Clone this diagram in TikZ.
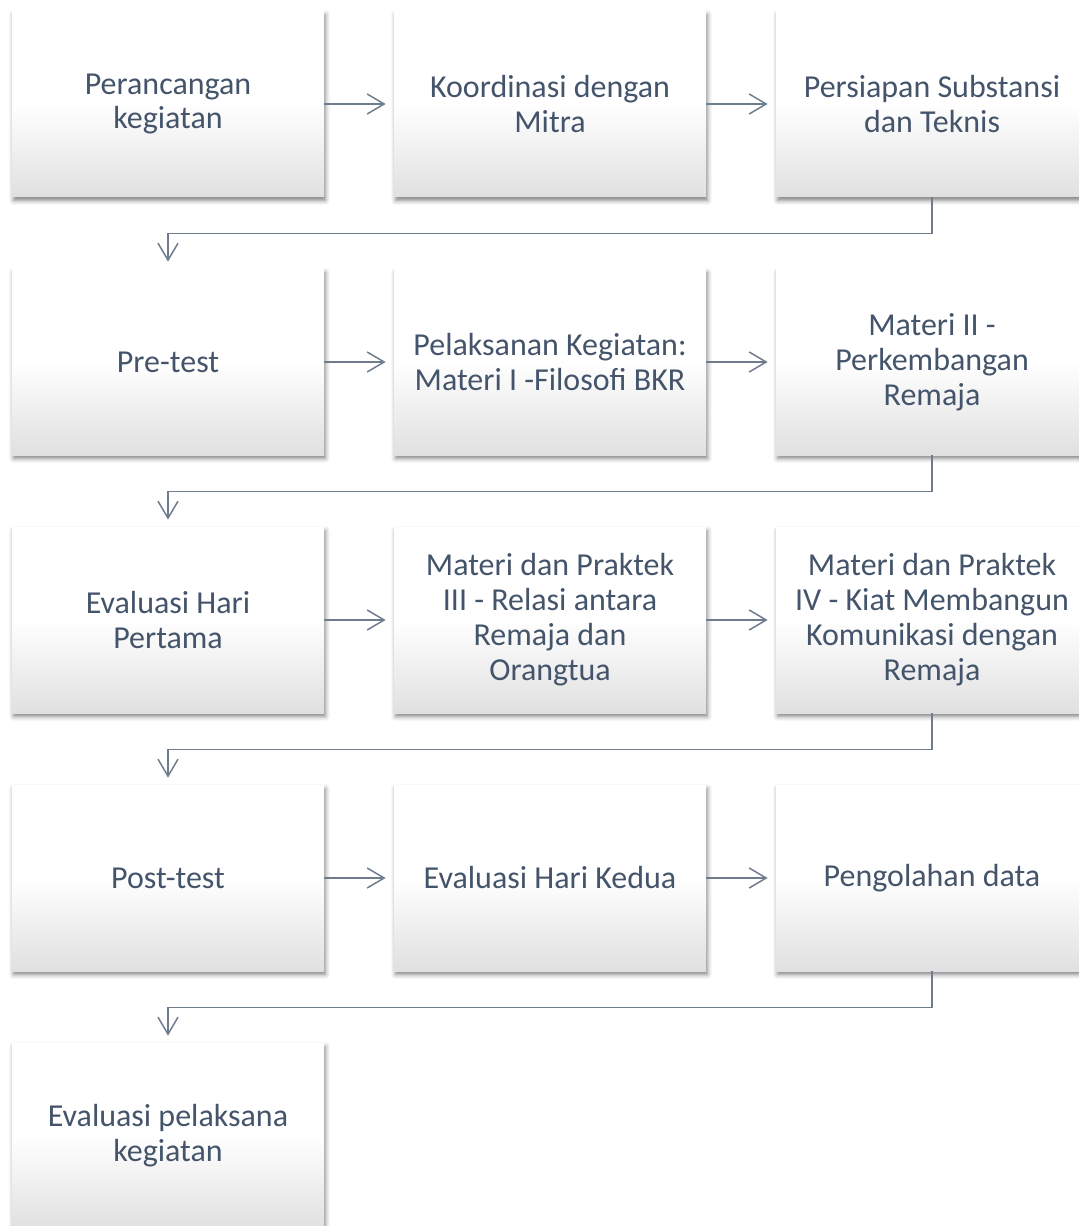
\documentclass[tikz,border=0pt]{standalone}
\usepackage{fontspec}
\setmainfont{Carlito}
\usepackage{tikz}
\usetikzlibrary{arrows.meta, positioning, calc, shadows.blur}
\definecolor{textslate}{HTML}{44546A}
\definecolor{lineslate}{HTML}{6F7C8E}
\definecolor{boxgray}{HTML}{E0E0E0}

\begin{document}
\begin{tikzpicture}[
    stage/.style={minimum width=6.24cm, minimum height=3.72cm, inner sep=0pt,
      top color=white, bottom color=boxgray, middle color=white,
      blur shadow={shadow xshift=0.03cm, shadow yshift=-0.07cm, shadow blur radius=0.09cm, shadow opacity=50},
      font=\fontsize{18.2pt}{19.9pt}\selectfont, text=textslate, align=center},
    flow/.style={-{Straight Barb[length=0.34cm, width=0.4cm]}, draw=lineslate, line width=0.85pt},
]
    \useasboundingbox (0,0) rectangle (21.56,-24.52);

    % Row 1
    \node[stage] (plan) at (3.36, -2.08) {Perancangan\\kegiatan};
    \node[stage] (koord) at (11.0, -2.08) {Koordinasi dengan\\Mitra};
    \node[stage] (siap) at (18.64, -2.08) {Persiapan Substansi\\dan Teknis};

    % Row 2
    \node[stage] (pretest) at (3.36, -7.24) {Pre-test};
    \node[stage] (materi1) at (11.0, -7.24) {Pelaksanan Kegiatan:\\Materi I -Filosofi BKR};
    \node[stage] (materi2) at (18.64, -7.24) {Materi II -\\Perkembangan\\Remaja};

    % Row 3
    \node[stage] (evalsatu) at (3.36, -12.40) {Evaluasi Hari\\Pertama};
    \node[stage] (materi3) at (11.0, -12.40) {Materi dan Praktek\\III - Relasi antara\\Remaja dan\\Orangtua};
    \node[stage] (materi4) at (18.64, -12.40) {Materi dan Praktek\\IV - Kiat Membangun\\Komunikasi dengan\\Remaja};

    % Row 4
    \node[stage] (posttest) at (3.36, -17.56) {Post-test};
    \node[stage] (evaldua) at (11.0, -17.56) {Evaluasi Hari Kedua};
    \node[stage] (olah) at (18.64, -17.56) {Pengolahan data};

    % Row 5
    \node[stage] (evalakhir) at (3.36, -22.72) {Evaluasi pelaksana\\kegiatan};

    % Arrows within rows
    \draw[flow] (plan) -- ([xshift=-0.16cm]koord.west);
    \draw[flow] (koord) -- ([xshift=-0.16cm]siap.west);
    \draw[flow] (pretest) -- ([xshift=-0.16cm]materi1.west);
    \draw[flow] (materi1) -- ([xshift=-0.16cm]materi2.west);
    \draw[flow] (evalsatu) -- ([xshift=-0.16cm]materi3.west);
    \draw[flow] (materi3) -- ([xshift=-0.16cm]materi4.west);
    \draw[flow] (posttest) -- ([xshift=-0.16cm]evaldua.west);
    \draw[flow] (evaldua) -- ([xshift=-0.16cm]olah.west);

    % Arrows to next row
    \draw[flow] (siap.south) -- ++(0,-0.72) -| ([yshift=0.14cm]pretest.north);
    \draw[flow] (materi2.south) -- ++(0,-0.72) -| ([yshift=0.14cm]evalsatu.north);
    \draw[flow] (materi4.south) -- ++(0,-0.72) -| ([yshift=0.14cm]posttest.north);
    \draw[flow] (olah.south) -- ++(0,-0.72) -| ([yshift=0.14cm]evalakhir.north);
\end{tikzpicture}
\end{document}
